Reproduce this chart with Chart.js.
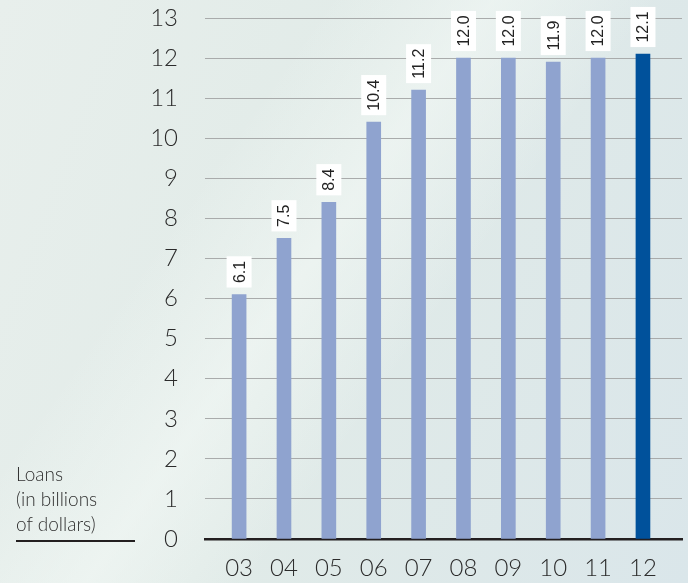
<!DOCTYPE html>
<html>
<head>
<meta charset="utf-8">
<script src="https://cdn.jsdelivr.net/npm/chart.js@4"></script>
<style>
    html, body {
        margin: 0;
        padding: 0;
        width: 688px;
        height: 583px;
        overflow: hidden;
    }
    body {
        background:
            linear-gradient(125deg, rgba(255,255,255,0) 30%, rgba(245,250,247,0.55) 45%, rgba(255,255,255,0) 60%),
            linear-gradient(110deg, #e8efec 0%, #e1ebe8 45%, #dae6ea 100%);
        font-family: 'Lato', sans-serif;
        position: relative;
    }
    #wrap {
        position: absolute;
        left: 0;
        top: 0;
        width: 688px;
        height: 583px;
    }
    .axis-title {
        position: absolute;
        left: 16px;
        top: 461px;
        width: 119px;
        font-size: 19px;
        line-height: 25px;
        color: #2f2f2f;
        font-weight: 300;
        border-bottom: 2px solid #231f20;
        padding-bottom: 4px;
    }
</style>
</head>
<body>
<div id="wrap"><canvas id="myChart" width="688" height="583"></canvas></div>
<div class="axis-title">Loans<br>(in billions<br>of dollars)</div>
<script>
    // Loans per year, billions of dollars
    const years = ['03', '04', '05', '06', '07', '08', '09', '10', '11', '12'];
    const loans = [6.1, 7.5, 8.4, 10.4, 11.2, 12.0, 12.0, 11.9, 12.0, 12.1];
    const yTicks = [0, 1, 2, 3, 4, 5, 6, 7, 8, 9, 10, 11, 12, 13];

    const barColor = '#8fa3cf';
    const lastBarColor = '#00519b';

    // white boxes with the value written sideways above each bar
    const valueLabels = {
        id: 'valueLabels',
        afterDatasetsDraw(chart) {
            const ctx = chart.ctx;
            const meta = chart.getDatasetMeta(0);
            ctx.save();
            ctx.font = '16px "Liberation Sans", Arial, sans-serif';
            meta.data.forEach((bar, i) => {
                const text = loans[i].toFixed(1);
                const w = ctx.measureText(text).width;
                const boxH = w + 9;
                const boxW = 25;
                const bottom = bar.y - 7;
                ctx.fillStyle = '#ffffff';
                ctx.fillRect(bar.x - boxW / 2, bottom - boxH, boxW, boxH);
                ctx.translate(bar.x, bottom - boxH / 2);
                ctx.rotate(-Math.PI / 2);
                ctx.fillStyle = '#222222';
                ctx.textAlign = 'center';
                ctx.textBaseline = 'middle';
                ctx.fillText(text, 0, 1);
                ctx.setTransform(1, 0, 0, 1, 0, 0);
            });
            ctx.restore();
        }
    };

    const ChartCanvas = document.getElementById('myChart');

    const myChart = new Chart(ChartCanvas, {
        type: 'bar',
        data: {
            datasets: [{
                data: loans.map((v, i) => ({ x: i, y: v })),
                backgroundColor: loans.map((v, i) => i === loans.length - 1 ? lastBarColor : barColor),
                barThickness: 14,
                borderWidth: 0
            }]
        },
        options: {
            responsive: false,
            animation: false,
            layout: {
                padding: { top: 18, right: 6, left: 0, bottom: 0 }
            },
            plugins: {
                legend: { display: false },
                tooltip: { enabled: false }
            },
            scales: {
                x: {
                    type: 'linear',
                    offset: false,
                    min: -0.76,
                    max: 9.87,
                    z: 1,
                    afterBuildTicks: scale => {
                        scale.ticks = years.map((y, i) => ({ value: i }));
                    },
                    afterFit: scale => {
                        scale.height = 44;
                        scale.paddingLeft = 0;
                        scale.paddingRight = 0;
                    },
                    ticks: {
                        autoSkip: false,
                        maxRotation: 0,
                        padding: 15,
                        color: '#2b2b2b',
                        font: { family: 'Lato', size: 24, weight: 300 },
                        callback: value => years[value]
                    },
                    grid: { display: false, drawTicks: false },
                    border: { display: true, color: '#231f20', width: 2.5 }
                },
                y: {
                    min: 0,
                    max: 13,
                    afterBuildTicks: scale => {
                        scale.ticks = yTicks.map(v => ({ value: v }));
                    },
                    afterFit: scale => {
                        scale.width = 205;
                        scale.paddingTop = 0;
                        scale.paddingBottom = 0;
                    },
                    ticks: {
                        padding: 27,
                        color: '#2b2b2b',
                        font: { family: 'Lato', size: 24, weight: 300 }
                    },
                    grid: {
                        color: '#a9abab',
                        lineWidth: 1,
                        drawTicks: false
                    },
                    border: { display: false }
                }
            }
        },
        plugins: [valueLabels]
    });
</script>
</body>
</html>
